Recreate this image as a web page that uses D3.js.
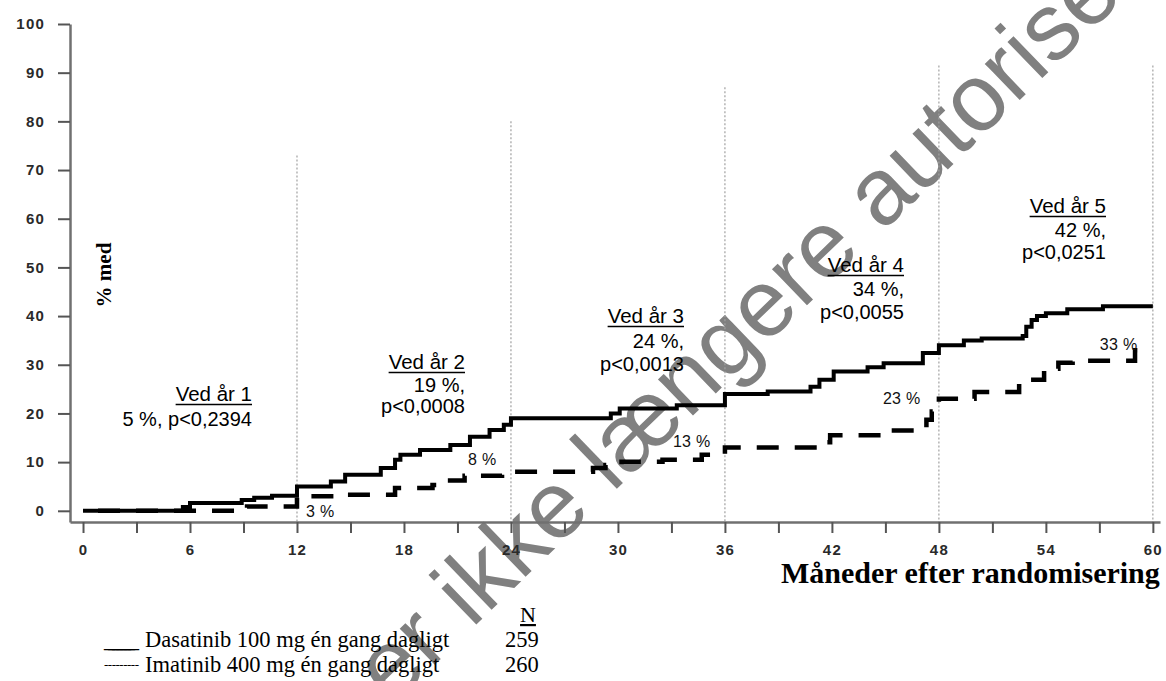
<!DOCTYPE html>
<html>
<head>
<meta charset="utf-8">
<script src="https://cdn.jsdelivr.net/npm/d3@7"></script>
<style>
  html, body { margin: 0; padding: 0; background: #fff; }
  svg { display: block; }
</style>
</head>
<body>
<svg id="chart" width="1166" height="681"></svg>
<script>
// Cumulative incidence (%) by month since randomisation, step points [month, percent]
const dasatinibSteps = [
  [0, 0], [5.6, 0.8], [6.0, 1.6], [8.9, 2.2], [9.6, 2.7], [10.6, 3.1],
  [12.0, 5.0], [13.9, 6.0], [14.7, 7.4], [16.7, 8.8], [17.5, 10.5], [17.8, 11.5],
  [18.9, 12.5], [20.6, 13.5], [21.7, 15.2], [22.8, 16.6], [23.6, 17.7], [24.0, 19.0],
  [29.6, 20.0], [30.1, 21.0], [33.3, 21.7], [36.0, 24.0], [38.4, 24.5],
  [40.8, 25.5], [41.3, 26.9], [42.1, 28.6], [44.0, 29.5], [44.9, 30.3],
  [47.1, 32.4], [48.0, 34.0], [49.4, 35.0], [50.4, 35.4], [52.7, 35.9],
  [52.9, 37.8], [53.2, 39.2], [53.5, 40.0], [54.0, 40.6], [55.2, 41.4],
  [57.2, 42.0], [60.0, 42.0]
];
const imatinibSteps = [
  [0, 0], [9.2, 0.9], [12.0, 3.0], [14.5, 3.3], [17.5, 4.7], [19.6, 5.3],
  [20.4, 6.2], [21.4, 7.2], [23.5, 8.0], [28.6, 8.8], [29.3, 9.4], [30.2, 10.1],
  [32.5, 10.5], [34.7, 11.5], [36.0, 13.0], [41.7, 14.1], [41.9, 15.5],
  [45.2, 16.5], [47.3, 18.7], [47.6, 20.4], [48.0, 23.0], [50.0, 24.4],
  [52.5, 25.6], [52.7, 26.9], [53.9, 29.2], [54.7, 30.4], [55.5, 30.8],
  [59.0, 33.0], [59.4, 33.0]
];

// Axis ticks
const yTickValues = [0, 10, 20, 30, 40, 50, 60, 70, 80, 90, 100];
const xTickValues = [0, 3, 6, 9, 12, 15, 18, 21, 24, 27, 30, 33, 36, 39, 42, 45, 48, 51, 54, 57, 60];
const xLabelledTicks = [0, 6, 12, 18, 24, 30, 36, 42, 48, 54, 60];

// Yearly reference lines: month and the percent level each line rises to
const yearMonths = [12, 24, 36, 48, 60];
const yearLineTops = [73, 80, 87, 91.5, 91.5];

// Yearly summaries
const yearTitles = ["Ved år 1", "Ved år 2", "Ved år 3", "Ved år 4", "Ved år 5"];
const yearLines = [
  ["5 %, p<0,2394"],
  ["19 %,", "p<0,0008"],
  ["24 %,", "p<0,0013"],
  ["34 %,", "p<0,0055"],
  ["42 %,", "p<0,0251"]
];

// Imatinib labels at each year: month, percent shown
const imatinibLabelMonths = [12, 24, 36, 48, 60];
const imatinibLabelValues = [3, 8, 13, 23, 33];

// Legend
const legendNames = ["Dasatinib 100 mg én gang dagligt", "Imatinib 400 mg én gang dagligt"];
const legendSymbols = ["_______", "---------"];
const legendSymbolSizes = [22.5, 13];
const legendN = [259, 260];

const W = 1166, H = 681;
const svg = d3.select("#chart");
svg.append("rect").attr("width", W).attr("height", H).attr("fill", "#fff");

// Scales: the axes meet a little below 0 % and a little left of month 0
const x = d3.scaleLinear().domain([-0.73, 60.4]).range([70, 1160]);
const y = d3.scaleLinear().domain([-2.3, 100]).range([522, 24]);

// Watermark behind the plot
svg.append("text")
  .attr("transform", "translate(392,706) rotate(-44)")
  .attr("font-family", "Liberation Sans, Arial, sans-serif")
  .attr("font-size", 95)
  .attr("fill", "#808080")
  .text("er ikke længere autoriseret");

// Yearly dotted guide lines
svg.append("g").selectAll("line")
  .data(yearMonths)
  .join("line")
  .attr("x1", d => x(d)).attr("x2", d => x(d))
  .attr("y1", (d, i) => y(yearLineTops[i]))
  .attr("y2", y(-2.3))
  .attr("stroke", "#a0a0a0")
  .attr("stroke-width", 1.2)
  .attr("stroke-dasharray", "2,2");

// Axes
const tickFont = "Liberation Sans, Arial, sans-serif";
const yAxis = svg.append("g")
  .attr("transform", `translate(${x(-0.73)},0)`)
  .call(d3.axisLeft(y).tickValues(yTickValues).tickSize(12).tickSizeOuter(0).tickPadding(13));
const xAxis = svg.append("g")
  .attr("transform", `translate(0,${y(-2.3)})`)
  .call(d3.axisBottom(x).tickValues(xTickValues).tickSize(11).tickSizeOuter(0).tickPadding(11)
    .tickFormat(d => xLabelledTicks.includes(d) ? d : ""));

[yAxis, xAxis].forEach(g => {
  g.select(".domain").attr("stroke", "#707070").attr("stroke-width", 2.5);
  g.selectAll(".tick line").attr("stroke", "#555").attr("stroke-width", 2);
  g.selectAll(".tick text")
    .attr("font-family", tickFont)
    .attr("font-weight", "bold")
    .attr("font-size", 15)
    .attr("letter-spacing", 1.2)
    .attr("fill", "#2a2a2a");
});

// Curves
const stepLine = d3.line().x(d => x(d[0])).y(d => y(d[1])).curve(d3.curveStepAfter);
svg.append("path")
  .datum(dasatinibSteps)
  .attr("d", stepLine)
  .attr("fill", "none")
  .attr("stroke", "#000")
  .attr("stroke-width", 4);
svg.append("path")
  .datum(imatinibSteps)
  .attr("d", stepLine)
  .attr("fill", "none")
  .attr("stroke", "#000")
  .attr("stroke-width", 4.5)
  .attr("stroke-dasharray", "22,16")
  .attr("stroke-dashoffset", 23);

// Imatinib percentage labels, placed relative to each yearly value
const labelOffsets = [[9, 21], [-43, -7], [-52, -1], [-56, 5], [-53, 0]];
svg.append("g").selectAll("text")
  .data(imatinibLabelMonths)
  .join("text")
  .attr("x", (d, i) => x(d) + labelOffsets[i][0])
  .attr("y", (d, i) => y(imatinibLabelValues[i]) + labelOffsets[i][1])
  .attr("font-family", tickFont)
  .attr("font-size", 16)
  .attr("letter-spacing", 0.3)
  .attr("fill", "#111")
  .text((d, i) => imatinibLabelValues[i] + " %");

// Yearly summary blocks (right-aligned)
const noteRight = [252, 465, 684, 904, 1106];
const noteBaseline = [401, 369, 323, 272, 213];
const noteLineGap = [[25], [23, 44], [25, 48], [24, 47], [24, 46]];
const noteFont = "Liberation Sans, Arial, sans-serif";
yearTitles.forEach((t, i) => {
  const g = svg.append("g");
  const title = g.append("text")
    .attr("x", noteRight[i]).attr("y", noteBaseline[i])
    .attr("text-anchor", "end")
    .attr("font-family", noteFont).attr("font-size", 20.5)
    .attr("fill", "#000")
    .text(t);
  const w = title.node().getComputedTextLength();
  g.append("line")
    .attr("x1", noteRight[i] - w).attr("x2", noteRight[i])
    .attr("y1", noteBaseline[i] + 3.5).attr("y2", noteBaseline[i] + 3.5)
    .attr("stroke", "#000").attr("stroke-width", 1.6);
  yearLines[i].forEach((s, j) => {
    g.append("text")
      .attr("x", noteRight[i]).attr("y", noteBaseline[i] + noteLineGap[i][j])
      .attr("text-anchor", "end")
      .attr("font-family", noteFont).attr("font-size", 20)
      .attr("fill", "#000")
      .text(s);
  });
});

// Axis titles
const serif = "Liberation Serif, Times New Roman, serif";
svg.append("text")
  .attr("transform", "translate(111,275) rotate(-90)")
  .attr("text-anchor", "middle")
  .attr("font-family", serif).attr("font-weight", "bold").attr("font-size", 21)
  .attr("fill", "#000")
  .text("% med");
svg.append("text")
  .attr("x", 781).attr("y", 583)
  .attr("font-family", serif).attr("font-weight", "bold").attr("font-size", 30)
  .attr("fill", "#000")
  .text("Måneder efter randomisering");

// Legend
const legendRows = [647, 672];
svg.append("text")
  .attr("x", 528).attr("y", 622)
  .attr("text-anchor", "middle")
  .attr("font-family", serif).attr("font-size", 22)
  .attr("text-decoration", "underline")
  .attr("fill", "#000")
  .text("N");
legendNames.forEach((name, i) => {
  svg.append("text")
    .attr("x", 104).attr("y", legendRows[i] - (i === 1 ? 3 : 0))
    .attr("font-family", serif).attr("font-size", legendSymbolSizes[i])
    .attr("textLength", 35).attr("lengthAdjust", "spacing")
    .attr("fill", "#000")
    .text(legendSymbols[i]);
  svg.append("text")
    .attr("x", 145).attr("y", legendRows[i])
    .attr("font-family", serif).attr("font-size", 22.5)
    .attr("fill", "#000")
    .text(name);
  svg.append("text")
    .attr("x", 505).attr("y", legendRows[i])
    .attr("font-family", serif).attr("font-size", 22.5)
    .attr("fill", "#000")
    .text(legendN[i]);
});
</script>
</body>
</html>
